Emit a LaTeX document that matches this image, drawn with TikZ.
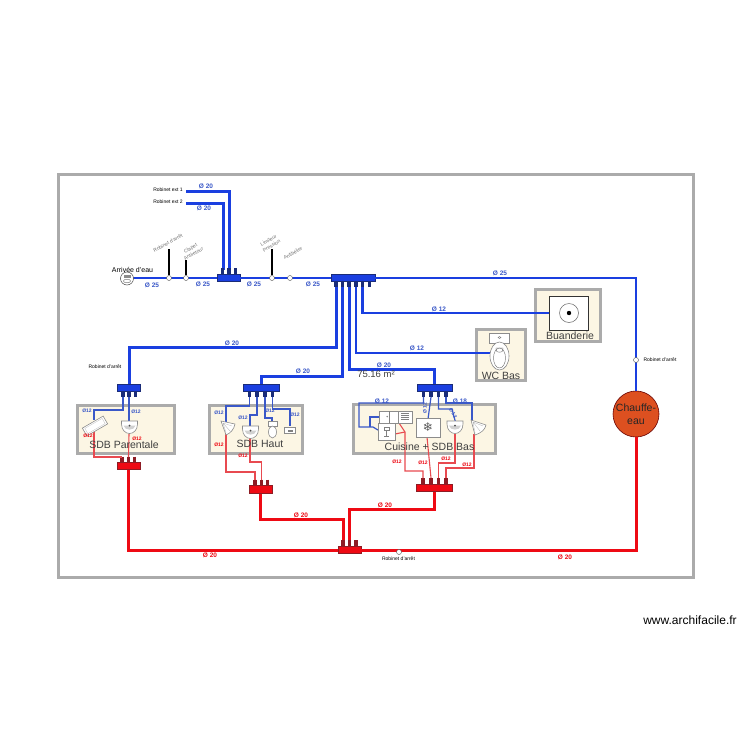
\documentclass[tikz,border=0pt]{standalone}
\usepackage{fontspec}
\setmainfont{Liberation Sans}
\newfontfamily\symfont{DejaVu Sans}
\definecolor{bluep}{HTML}{1A3FE0}
\definecolor{blued}{HTML}{3A58C8}
\definecolor{redp}{HTML}{EE0A14}
\definecolor{redt}{HTML}{E84A50}
\definecolor{wall}{HTML}{ABABAB}
\definecolor{cream}{HTML}{FCF6E4}
\definecolor{navy}{HTML}{1A2C78}
\definecolor{redd}{HTML}{8E1C24}
\definecolor{heater}{HTML}{DD5020}
\tikzset{
  x=1pt,y=-1pt,
  room/.style={draw=wall,line width=3pt,fill=cream},
  roomlabel/.style={font=\fontsize{10.5}{11}\selectfont,text=black!75,inner sep=0pt},
  bigpipe/.style={draw=bluep,line width=3pt},
  mainpipe/.style={draw=bluep,line width=2.7pt},
  midpipe/.style={draw=bluep,line width=2.2pt},
  thinb/.style={draw=blued,line width=1.2pt},
  thinr/.style={draw=redt,line width=1.1pt},
  bigred/.style={draw=redp,line width=3pt},
  mb/.style={draw=navy,fill=bluep,line width=.7pt,minimum height=7pt,inner sep=0pt},
  mr/.style={draw=redd,fill=redp,line width=.7pt,minimum height=7.5pt,inner sep=0pt},
  stubb/.style={draw=navy,line width=3.4pt},
  stubr/.style={draw=redd,line width=3.4pt},
  dia/.style={font=\bfseries\fontsize{6.5}{7}\selectfont,text=blued,inner sep=0pt},
  diar/.style={font=\bfseries\fontsize{6.5}{7}\selectfont,text=redp,inner sep=0pt},
  sdia/.style={font=\bfseries\fontsize{5}{5.5}\selectfont,text=blued,inner sep=0pt},
  sdiar/.style={font=\bfseries\fontsize{5}{5.5}\selectfont,text=redp,inner sep=0pt},
  tiny/.style={font=\fontsize{5}{5.5}\selectfont,text=black,inner sep=0pt},
  gtiny/.style={font=\fontsize{5}{6.2}\selectfont,text=black!55,inner sep=0pt,align=center,rotate=30},
  valve/.style={circle,draw=black!70,fill=white,line width=.4pt,minimum size=5pt,inner sep=0pt},
  fixt/.style={draw=black!45,fill=white,line width=.6pt},
}
\begin{document}
\begin{tikzpicture}
\useasboundingbox (0,0) rectangle (750,750);
\fill[white] (0,0) rectangle (750,750);
\draw[draw=wall,line width=3pt] (58,174) rectangle (693,577);
% rooms
\node[room,minimum width=97pt,minimum height=48pt,inner sep=0pt] (rP) at (126,429) {};
\node[room,minimum width=93pt,minimum height=48pt,inner sep=0pt] (rH) at (255.5,429) {};
\node[room,minimum width=142pt,minimum height=49pt,inner sep=0pt] (rC) at (424,428.5) {};
\node[room,minimum width=49pt,minimum height=51pt,inner sep=0pt] (rW) at (500.5,354.5) {};
\node[room,minimum width=65pt,minimum height=52pt,inner sep=0pt] (rB) at (567.5,315) {};
% coordinates
\coordinate (inlet) at (127,278);
\coordinate (ext1) at (186,191);
\coordinate (ext2) at (186,203);
% manifolds
\node[mb,minimum width=23pt] (m1) at (228.5,278) {};
\node[mb,minimum width=44pt] (m2) at (353,278) {};
\node[mb,minimum width=23pt] (mP) at (129,387.5) {};
\node[mb,minimum width=36pt] (mH) at (261,387.5) {};
\node[mb,minimum width=35pt] (mC) at (434.5,387.5) {};
\node[mr,minimum width=23pt] (rmP) at (128.5,466) {};
\node[mr,minimum width=23pt] (rmH) at (260.5,489.5) {};
\node[mr,minimum width=36pt] (rmC) at (434,488) {};
\node[mr,minimum width=23pt] (rmM) at (349.5,550) {};
\node[circle,draw=black!60!red,fill=heater,line width=.6pt,minimum size=46pt,inner sep=0pt,align=center,font=\fontsize{10.5}{13}\selectfont,text=black!85] (ce) at (636,414) {Chauffe-\\eau};
% big blue pipes
\draw[mainpipe] (inlet) -- (m1) -- (m2);
\draw[mainpipe] (m2.east) -| (ce.north);
\draw[bigpipe] (ext1) -| (229,270);
\draw[bigpipe] (ext2) -| (223,270);
\draw[bigpipe] (336,287) |- (129,347) -- (mP.north);
\draw[bigpipe] (342.5,287) |- (261,376) -- (mH.north);
\draw[bigpipe] (349,287) |- (434.5,369) -- (mC.north);
\draw[midpipe] (356,287) |- (491,353);
\draw[midpipe] (362.5,287) |- (551,313);
% big red
\draw[bigred] (ce.south) |- (rmM.east);
\draw[bigred] (rmM.west) -| (rmP.south);
\draw[bigred] (rmH.south) |- (343,519) -- (343,542);
\draw[bigred] (349.5,542) |- (434,509) -- (rmC.south);
% stubs
\foreach \x in {222.5,229,235.5} \draw[stubb] (\x,268) -- (\x,275);
\foreach \x in {336,342.5,349,356,362.5,369.5} \draw[stubb] (\x,281) -- (\x,287);
\foreach \x in {123,129,135.5} \draw[stubb] (\x,391) -- (\x,397);
\foreach \x in {249.5,257,265,272.5} \draw[stubb] (\x,391) -- (\x,397);
\foreach \x in {423.5,431,438.5,446} \draw[stubb] (\x,391) -- (\x,397);
\foreach \x in {122,128.5,134.5} \draw[stubr] (\x,456.5) -- (\x,462.5);
\foreach \x in {255,261.5,267.5} \draw[stubr] (\x,479.5) -- (\x,486);
\foreach \x in {423,431,438.5,446} \draw[stubr] (\x,478) -- (\x,484.5);
\foreach \x in {343,349.5,356} \draw[stubr] (\x,540) -- (\x,546.5);
% thin blue
\draw[thinb] (123,397) |- (94,410) -- (94,420);
\draw[thinb] (129,397) -- (129,424);
\draw[thinb] (249.5,397) |- (226,406) -- (226,422);
\draw[thinb] (257,397) |- (250,415) -- (250,430);
\draw[thinb] (265,397) |- (272,418) -- (272,425);
\draw[thinb] (272.5,397) |- (290,409) -- (290,426);
\draw[thinb] (423.5,397) |- (359,403) |- (373,427) -- (378,430);
\draw[thinb] (370,427) |- (379,417);
\draw[thinb] (431,397) -- (428,419);
\draw[thinb] (438.5,397) |- (452,409) -- (456,424);
\draw[thinb] (446,397) |- (472,403) -- (472,421);
% thin red
\draw[thinr] (94,431) |- (122,457);
\draw[thinr] (129,434) -- (128.5,457);
\draw[thinr] (226,432) |- (255,472) -- (255,480);
\draw[thinr] (250,437) |- (261.5,462) -- (261.5,480);
\draw[thinr] (423,478) |- (405,471) -- (405,432) -- (399,423);
\draw[thinr] (405,432) -- (395,434);
\draw[thinr] (431,478) -- (427,437);
\draw[thinr] (438.5,478) |- (455,463) -- (455,434);
\draw[thinr] (446,478) |- (474,468) -- (474,434);
% valves
\node[valve] (v1) at (169,278) {};
\node[valve] (v2) at (186,278) {};
\node[valve] (v3) at (272,278) {};
\node[valve] (v4) at (290,278) {};
\node[valve] (v5) at (636,360) {};
\node[valve] (v6) at (399,552) {};
\draw[black,line width=1.3pt] (v1.north) -- (169,249);
\draw[black,line width=1.3pt] (v2.north) -- (186,260);
\draw[black,line width=1.3pt] (v3.north) -- (272,249);
% inlet meter
\node[circle,draw=black!70,fill=white,line width=.5pt,minimum size=13pt,inner sep=0pt] (mt) at (127,278.5) {};
\fill[black!45] (123.5,274.5) rectangle (130.5,278);
\draw[black!60,line width=.4pt] (127,281) ellipse (3.6 and 1.8);
% fixtures
% bath
\draw[fixt,rotate around={30:(95,426)}] (83,421.5) rectangle (107,430.5);
\draw[black!25,line width=.3pt,rotate around={30:(95,426)}] (85,423) rectangle (105,429);
% sinks
\foreach \cx/\cy in {129.5/421,250.5/426,455/421}{
  \draw[fixt] (\cx-8,\cy) -- (\cx+8,\cy) -- (\cx+8,\cy+3) .. controls (\cx+8,\cy+9) and (\cx+4,\cy+12.5) .. (\cx,\cy+12.5) .. controls (\cx-4,\cy+12.5) and (\cx-8,\cy+9) .. (\cx-8,\cy+3) -- cycle;
  \fill[black!18] (\cx-6,\cy+4.5) .. controls (\cx-5,\cy+10) and (\cx+5,\cy+10) .. (\cx+6,\cy+4.5) -- cycle;
  \fill[black!70] (\cx,\cy+4.5) circle (1);
}
% showers
\draw[fixt] (221,421) -- (235,424) .. controls (234,429) and (231,433) .. (226,435) -- cycle;
\draw[black!30,line width=.3pt] (223,423) -- (232,426) (223,423) -- (230,431) (223,423) -- (226,433);
\draw[fixt] (471,420) -- (486,425) .. controls (485,430) and (481,433) .. (475,435) -- cycle;
\draw[black!30,line width=.3pt] (473,422) -- (483,426) (473,422) -- (480,431) (473,422) -- (475,433);
% WC haut + lave
\draw[fixt] (268,421.5) rectangle (277,426);
\draw[fixt] (272.5,432) ellipse (4 and 6);
\draw[fixt] (284,427) rectangle (295,433);
\fill[black!50] (288,430) rectangle (293,431.5);
% cuisine
\draw[fixt] (379,411) rectangle (398,423);
\draw[black!50,line width=.4pt] (389,411) -- (389,423);
\fill[black!50] (387.2,416.5) circle (.8);
\draw[fixt] (398,411) rectangle (412,423);
\foreach \yy in {413.5,415.5,417.5,419.5} \draw[black!50,line width=.3pt] (401,\yy) -- (409,\yy);
\draw[fixt] (378,423) rectangle (395,440);
\draw[black!50,line width=.3pt] (384,427) rectangle (389,430) (386.5,430) -- (386.5,436) (384,436) -- (389,436);
\draw[fixt] (416,418) rectangle (440,437);
\node[font=\symfont\fontsize{12}{12}\selectfont,text=black!65,inner sep=0pt] (snow) at (428,427.5) {❄};
% WC bas
\draw[fixt,line width=.6pt] (489.5,333) rectangle (509.5,343);
\draw[black!60,line width=.4pt] (499.5,337.5) ellipse (1.5 and 1);
\draw[fixt,line width=.6pt] (499.5,356) ellipse (9.5 and 14);
\draw[black!60,line width=.4pt] (499.5,358) ellipse (6 and 10);
\draw[black!60,line width=.4pt] (496,348) -- (503,348) -- (503,350) .. controls (503,353) and (496,353) .. (496,350) -- cycle;
% appliance buanderie
\draw[fill=white,draw=black!80,line width=.6pt] (549.5,296.5) rectangle (588,330);
\draw[black!60,line width=.5pt] (569,313) circle (9.5);
\fill[black] (569,313) circle (2.2);
% room labels
\node[roomlabel] (tP) at (124,444.5) {SDB Parentale};
\node[roomlabel] (tH) at (260,443.5) {SDB Haut};
\node[roomlabel] (tC) at (429.5,446.5) {Cuisine + SDB Bas};
\node[roomlabel] (tW) at (501,375.5) {WC Bas};
\node[roomlabel] (tB) at (570,336) {Buanderie};
\node[font=\fontsize{9.5}{10}\selectfont,text=black!75,inner sep=0pt] (area) at (376,374.5) {75.16 m²};
\node[font=\fontsize{7}{7.5}\selectfont,text=black,inner sep=0pt] (tA) at (132.5,270) {Arrivée d'eau};
% small black labels
\node[tiny] (l1) at (168,190) {Robinet ext 1};
\node[tiny] (l2) at (168,202) {Robinet ext 2};
\node[tiny] (l3) at (105,367) {Robinet d'arrêt};
\node[tiny] (l4) at (660,360) {Robinet d'arrêt};
\node[tiny] (l5) at (398.5,559) {Robinet d'arrêt};
\node[gtiny] (g1) at (168,243) {Robinet d'arrêt};
\node[gtiny] (g2) at (192,251) {Clapet\\Antiretour};
\node[gtiny] (g3) at (270,243) {Limiteur\\Pression};
\node[gtiny] (g4) at (293,253) {Antibélier};
% diameters
\foreach \p/\t in {206/186,204/208}{\node[dia] at (\p,\t) {Ø 20};}
\foreach \p/\t in {152/285,203/284,254/284,313/284,500/273.5}{\node[dia] at (\p,\t) {Ø 25};}
\foreach \p/\t in {232/343,303/371.5,384/365}{\node[dia] at (\p,\t) {Ø 20};}
\foreach \p/\t in {439/309.5,417/348.5}{\node[dia] at (\p,\t) {Ø 12};}
\node[dia] at (382,401.5) {Ø 12};
\node[dia] at (460,401.5) {Ø 18};
\foreach \p/\t in {301/515,385/505,210/555,565/557.5}{\node[diar] at (\p,\t) {Ø 20};}
\foreach \p/\t in {87/411,136/412,219/413,243/418,270/411,295/415}{\node[sdia] at (\p,\t) {Ø12};}
\node[sdia,rotate=90] at (425,408) {Ø 12};
\node[sdia,rotate=-60] at (453,413) {Ø 12};
\foreach \p/\t in {88/436,137/439,219/445,243/456,397/462,423/463,446/459,467/465}{\node[sdiar] at (\p,\t) {Ø12};}
% watermark
\node[font=\fontsize{12}{12.5}\selectfont,text=black,inner sep=0pt] (wm) at (690,620) {www.archifacile.fr};
\end{tikzpicture}
\end{document}
